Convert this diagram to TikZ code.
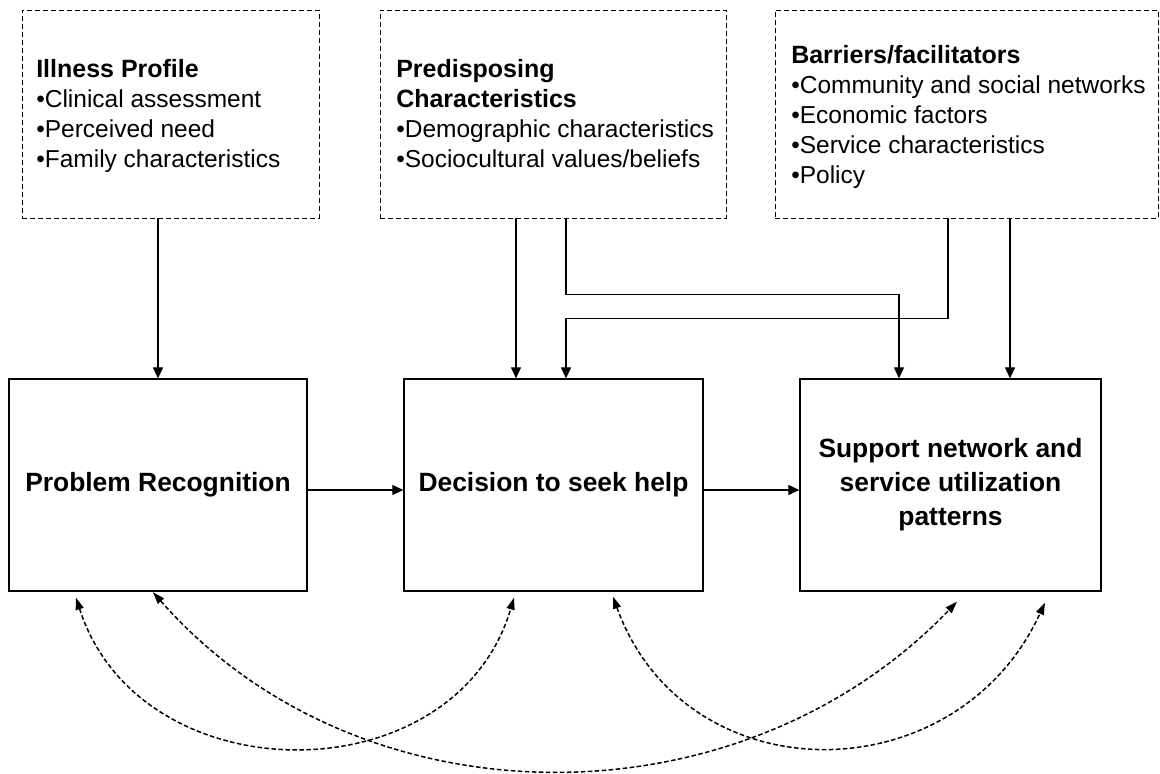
\documentclass[tikz,border=0pt]{standalone}
\usepackage{fontspec}
\setmainfont{Liberation Sans}
\usetikzlibrary{arrows.meta}
\begin{document}
\begin{tikzpicture}[x=1pt,y=-1pt,
  dbox/.style={draw, dash pattern=on 5pt off 3pt, line width=0.9pt, inner sep=0pt, minimum height=208pt},
  sbox/.style={draw, line width=1.3pt, inner sep=0pt, minimum height=212pt, align=center,
    font=\fontsize{26.4}{34}\selectfont\bfseries},
  txt/.style={anchor=west, inner sep=0pt, align=left, font=\fontsize{24.5}{30}\selectfont},
  arr/.style={line width=1.2pt, -{Triangle[length=11pt,width=10pt]}},
  darr/.style={line width=1.5pt, dash pattern=on 4.5pt off 2.5pt,
    {Triangle[length=12pt,width=8pt]}-{Triangle[length=12pt,width=8pt]}},
]
\useasboundingbox (0,0) rectangle (1160,774);
% top dashed boxes
\node[dbox, minimum width=297pt] (ill) at (170.5,114) {};
\node[dbox, minimum width=346pt] (pre) at (553,114) {};
\node[dbox, minimum width=383pt] (bar) at (966.5,114) {};
\node[txt] (illt) at ([xshift=14.5pt,yshift=-2pt]ill.west) {\textbf{\fontsize{25}{30}\selectfont Illness Profile}\\•Clinical assessment\\•Perceived need\\•Family characteristics};
\node[txt] (pret) at ([xshift=16.5pt]pre.west) {\textbf{\fontsize{25}{30}\selectfont Predisposing}\\\textbf{\fontsize{25}{30}\selectfont Characteristics}\\•Demographic characteristics\\•Sociocultural values/beliefs};
\node[txt] (bart) at ([xshift=16.5pt,yshift=-3pt]bar.west) {\textbf{\fontsize{25}{30}\selectfont Barriers/facilitators}\\•Community and social networks\\•Economic factors\\•Service characteristics\\•Policy};
% bottom boxes
\node[sbox, minimum width=298pt] (pr) at (158,485) {Problem Recognition};
\node[sbox, minimum width=299pt] (dec) at (553.5,485) {Decision to seek help};
\node[sbox, minimum width=301pt] (sup) at (950.5,485) {Support network and\\service utilization\\patterns};
% connector points
\coordinate (d1) at ([xshift=-37.5pt]dec.north);
\coordinate (d2) at ([xshift=12.5pt]dec.north);
\coordinate (s1) at ([xshift=-51.5pt]sup.north);
\coordinate (s2) at ([xshift=59.5pt]sup.north);
\coordinate (b1) at ([xshift=-18.5pt]bar.south);
% vertical arrows
\draw[arr] (pr.north |- ill.south) -- (pr.north);
\draw[arr] (d1 |- pre.south) -- (d1);
\draw[arr] (d2 |- pre.south) -- ++(0,76) -| (s1);
\draw[arr] (b1) -- ++(0,100) -| (d2);
\draw[arr] (s2 |- bar.south) -- (s2);
% horizontal arrows
\draw[arr] ([yshift=-5pt]pr.east) -- ([yshift=-5pt]dec.west);
\draw[arr] ([yshift=-5pt]dec.east) -- ([yshift=-5pt]sup.west);
% feedback curves
\coordinate (c1a) at ([xshift=-82pt,yshift=-6pt]pr.south);
\coordinate (c2a) at ([xshift=-5pt,yshift=-0.5pt]pr.south);
\coordinate (c1b) at ([xshift=-39.5pt,yshift=-6pt]dec.south);
\coordinate (c3a) at ([xshift=59.5pt,yshift=-5pt]dec.south);
\coordinate (c2b) at ([xshift=6.5pt,yshift=-10pt]sup.south);
\coordinate (c3b) at ([xshift=94.5pt,yshift=-11pt]sup.south);
\draw[darr] (c1a) .. controls (140,797) and (455,797) .. (c1b);
\draw[darr] (c2a) .. controls (360,828) and (740,828) .. (c2b);
\draw[darr] (c3a) .. controls (685,796) and (956,796) .. (c3b);
\end{tikzpicture}
\end{document}
